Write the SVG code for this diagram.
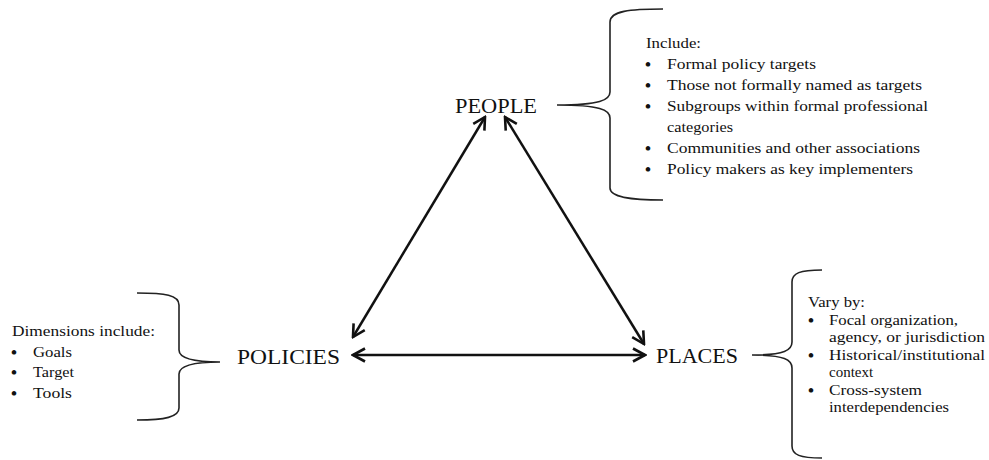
<svg xmlns="http://www.w3.org/2000/svg" width="989" height="460" viewBox="0 0 989 460">
<style>
  text { font-family: "Liberation Serif", "Times New Roman", serif; fill: #111; }
  .main { font-size: 22px; }
  .small { font-size: 15px; }
  .bul { font-size: 17px; font-weight: bold; }
  .brace { fill: none; stroke: #222; stroke-width: 1.6; }
  .conn { fill: none; stroke: #111; stroke-width: 2.5; }
</style>
<defs>
  <marker id="chev" viewBox="0 0 16 16" refX="14" refY="8" markerWidth="16" markerHeight="16" markerUnits="userSpaceOnUse" orient="auto-start-reverse">
    <path d="M2,1.5 L14,8 L2,14.5" fill="none" stroke="#111" stroke-width="2.6" stroke-linejoin="miter"/>
  </marker>
</defs>

<g id="connectors">
  <line class="conn" x1="485" y1="117" x2="353" y2="337" marker-start="url(#chev)" marker-end="url(#chev)"/>
  <line class="conn" x1="505" y1="117" x2="644" y2="344" marker-start="url(#chev)" marker-end="url(#chev)"/>
  <line class="conn" x1="353" y1="355" x2="645" y2="355" marker-start="url(#chev)" marker-end="url(#chev)"/>
</g>

<g id="people">
  <text class="main" x="455" y="113" textLength="82" lengthAdjust="spacingAndGlyphs">PEOPLE</text>
</g>
<g id="policies">
  <text class="main" x="237" y="364" textLength="103" lengthAdjust="spacingAndGlyphs">POLICIES</text>
</g>
<g id="places">
  <text class="main" x="656" y="363" textLength="82" lengthAdjust="spacingAndGlyphs">PLACES</text>
</g>

<g id="people-notes">
  <path class="brace" d="M663,9 C630,9 610,11 610,22 L610,92 C610,100 600,105 557,105 C600,105 610,110 610,118 L610,188 C610,197 630,200 663,200"/>
  <text class="small" x="646" y="48" textLength="55" lengthAdjust="spacingAndGlyphs">Include:</text>
  <text class="bul" x="645" y="70">•</text>
  <text class="small" x="667" y="69" textLength="149" lengthAdjust="spacingAndGlyphs">Formal policy targets</text>
  <text class="bul" x="645" y="91">•</text>
  <text class="small" x="667" y="90" textLength="255" lengthAdjust="spacingAndGlyphs">Those not formally named as targets</text>
  <text class="bul" x="645" y="112">•</text>
  <text class="small" x="667" y="111" textLength="261" lengthAdjust="spacingAndGlyphs">Subgroups within formal professional</text>
  <text class="small" x="667" y="132" textLength="66" lengthAdjust="spacingAndGlyphs">categories</text>
  <text class="bul" x="645" y="154">•</text>
  <text class="small" x="667" y="153" textLength="253" lengthAdjust="spacingAndGlyphs">Communities and other associations</text>
  <text class="bul" x="645" y="175">•</text>
  <text class="small" x="667" y="174" textLength="246" lengthAdjust="spacingAndGlyphs">Policy makers as key implementers</text>
</g>

<g id="policies-notes">
  <path class="brace" d="M137,293 C165,293 179,295 179,305 L179,350 C179,357 188,362 220,362 C188,362 179,367 179,374 L179,408 C179,417 165,420 137,420"/>
  <text class="small" x="12" y="336" textLength="143" lengthAdjust="spacingAndGlyphs">Dimensions include:</text>
  <text class="bul" x="11" y="358">•</text>
  <text class="small" x="33" y="357" textLength="39" lengthAdjust="spacingAndGlyphs">Goals</text>
  <text class="bul" x="11" y="378">•</text>
  <text class="small" x="33" y="377" textLength="41" lengthAdjust="spacingAndGlyphs">Target</text>
  <text class="bul" x="11" y="399">•</text>
  <text class="small" x="33" y="398" textLength="39" lengthAdjust="spacingAndGlyphs">Tools</text>
</g>

<g id="places-notes">
  <path class="brace" d="M822,270 C800,270 792,273 792,282 L792,342 C792,350 785,355 752,355 C785,355 792,360 792,368 L792,446 C792,455 800,458 822,458"/>
  <text class="small" x="808" y="307" textLength="57" lengthAdjust="spacingAndGlyphs">Vary by:</text>
  <text class="bul" x="808" y="326">•</text>
  <text class="small" x="829" y="325" textLength="129" lengthAdjust="spacingAndGlyphs">Focal organization,</text>
  <text class="small" x="829" y="342" textLength="156" lengthAdjust="spacingAndGlyphs">agency, or jurisdiction</text>
  <text class="bul" x="808" y="361">•</text>
  <text class="small" x="829" y="360" textLength="156" lengthAdjust="spacingAndGlyphs">Historical/institutional</text>
  <text class="small" x="829" y="377">context</text>
  <text class="bul" x="808" y="396">•</text>
  <text class="small" x="829" y="395" textLength="93" lengthAdjust="spacingAndGlyphs">Cross-system</text>
  <text class="small" x="829" y="412" textLength="120" lengthAdjust="spacingAndGlyphs">interdependencies</text>
</g>
</svg>
